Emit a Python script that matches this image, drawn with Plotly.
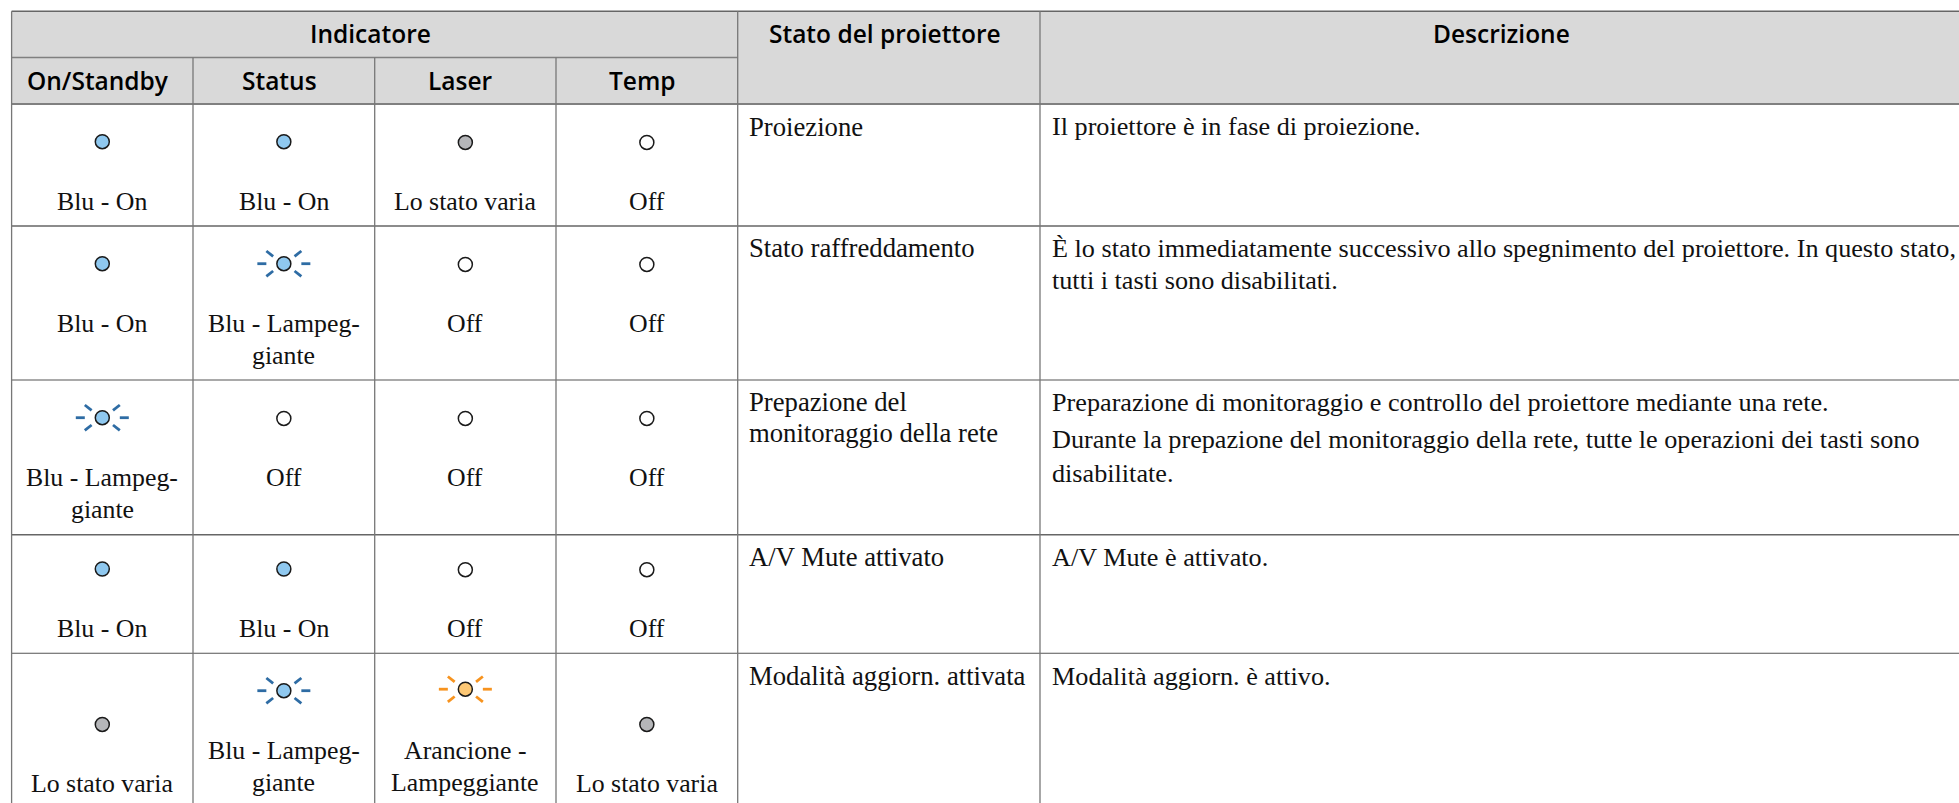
import plotly.graph_objects as go

# ---- table content ----
group_header = "Indicatore"
column_headers = ["On/Standby", "Status", "Laser", "Temp"]
state_header = "Stato del proiettore"
description_header = "Descrizione"

led_states = [
    ["blue", "blue", "grey", "off"],
    ["blue", "blue_blink", "off", "off"],
    ["blue_blink", "off", "off", "off"],
    ["blue", "blue", "off", "off"],
    ["grey", "blue_blink", "orange_blink", "grey"],
]
state_labels = {
    "blue": ["Blu - On"],
    "blue_blink": ["Blu - Lampeg-", "giante"],
    "grey": ["Lo stato varia"],
    "off": ["Off"],
    "orange_blink": ["Arancione -", "Lampeggiante"],
}
projector_states = [
    ["Proiezione"],
    ["Stato raffreddamento"],
    ["Prepazione del", "monitoraggio della rete"],
    ["A/V Mute attivato"],
    ["Modalità aggiorn. attivata"],
]
descriptions = [
    ["Il proiettore è in fase di proiezione."],
    ["È lo stato immediatamente successivo allo spegnimento del proiettore. In questo stato,",
     "tutti i tasti sono disabilitati."],
    ["Preparazione di monitoraggio e controllo del proiettore mediante una rete.",
     "Durante la prepazione del monitoraggio della rete, tutte le operazioni dei tasti sono",
     "disabilitate."],
    ["A/V Mute è attivato."],
    ["Modalità aggiorn. è attivo."],
]

# ---- layout geometry ----
W, H = 1959, 803
X_EDGES = [11.6, 193, 374.7, 556, 737.7, 1040, 1959]
Y_EDGES = [11.3, 57.5, 104, 226, 380, 534.7, 653.3]
LED_Y = [141.7, 263.7, 417.7, 569, 690.7]
TEXT_Y = [[126.7], [248.3, 280.7], [402, 433.4], [557], [676]]
DESC_Y = [[126.7], [248.3, 280.7], [402, 439.6, 473], [557], [676]]
LED_FILL = {"blue": "#8FC8EF", "blue_blink": "#8FC8EF", "grey": "#B5B6B9",
            "off": "#FFFFFF", "orange_blink": "#FDC875"}
LED_DY = {"blue": 0, "blue_blink": 0, "grey": 0.7, "off": 0.7, "orange_blink": -1.5}
RAY = {"blue_blink": "#2E6CA4", "orange_blink": "#F7931E"}
SERIF = "Liberation Serif"
SANS = "Open Sans"
LABEL_SIZE = 25.8
STATE_SIZE = 26.7
DESC_SIZE = 26.2
HEAD = 24.5

fig = go.Figure()
shapes = [dict(type="rect", x0=X_EDGES[0], x1=W + 2, y0=Y_EDGES[0], y1=Y_EDGES[2],
               fillcolor="#D9D9D9", line_width=0, layer="below")]


def hline(y, x0, x1, w=1.3, c="#6E6E6E"):
    shapes.append(dict(type="line", x0=x0, x1=x1, y0=y, y1=y, line=dict(color=c, width=w)))


def vline(x, y0, y1, w=1.3, c="#777777"):
    shapes.append(dict(type="line", x0=x, x1=x, y0=y0, y1=y1, line=dict(color=c, width=w)))


hline(Y_EDGES[0], X_EDGES[0], W + 2, 1.6, "#666666")
hline(Y_EDGES[1], X_EDGES[0], X_EDGES[4], 1.6, "#808080")
hline(Y_EDGES[2], X_EDGES[0], W + 2, 2, "#808080")
hline(Y_EDGES[3], X_EDGES[0], W + 2, 1.8, "#8C8C8C")
hline(Y_EDGES[4], X_EDGES[0], W + 2, 1.1, "#555555")
hline(Y_EDGES[5], X_EDGES[0], W + 2, 1.5, "#666666")
hline(Y_EDGES[6], X_EDGES[0], W + 2, 1.1, "#555555")
vline(X_EDGES[0], Y_EDGES[0], H + 2)
for x in X_EDGES[1:4]:
    vline(x, Y_EDGES[1], H + 2)
for x in X_EDGES[4:6]:
    vline(x, Y_EDGES[0], H + 2)

annotations = []


def text(x, y, s, size, family=SERIF, anchor="center", weight=400, color="#111111"):
    annotations.append(dict(x=x, y=y, text=s, showarrow=False, xanchor=anchor, yanchor="middle",
                            font=dict(family=family, size=size, color=color, weight=weight),
                            xref="x", yref="y", borderpad=0, borderwidth=0))


def head(x, y, s):
    text(x, y, s, HEAD, SANS, weight=600, color="#000000")


centers = [(X_EDGES[i] + X_EDGES[i + 1]) / 2 for i in range(4)]
head((X_EDGES[0] + X_EDGES[4]) / 2 - 4, 33.5, group_header)
for cx, h in zip(centers, column_headers):
    head(cx - 4.5, 80, h)
head((X_EDGES[4] + X_EDGES[5]) / 2 - 4, 33.5, state_header)
head((X_EDGES[5] + X_EDGES[6]) / 2 + 2, 33.5, description_header)

# LEDs and their labels
LINE_PITCH, LABEL_OFFSET, BOTTOM_SHIFT = 32.7, 59.5, 33
led_x, led_y, led_fill = [], [], []
ray_xy = {k: ([], []) for k in RAY}
for r, row in enumerate(led_states):
    for c, st in enumerate(row):
        lines = state_labels[st]
        shift = BOTTOM_SHIFT if (r == 4 and len(lines) == 1) else 0
        x, y = centers[c], LED_Y[r] + shift + LED_DY[st]
        led_x.append(x); led_y.append(y); led_fill.append(LED_FILL[st])
        if st in RAY:
            xs, ys = ray_xy[st]
            for sx in (-1, 1):
                xs += [x + sx * 17.5, x + sx * 26.5, None]; ys += [y, y, None]
                for sy in (-1, 1):
                    xs += [x + sx * 10.7, x + sx * 17.5, None]
                    ys += [y + sy * 7.3, y + sy * 12.7, None]
        for i, s in enumerate(lines):
            text(x, LED_Y[r] + shift + LABEL_OFFSET + i * LINE_PITCH, s, LABEL_SIZE)

for st, (xs, ys) in ray_xy.items():
    fig.add_trace(go.Scatter(x=xs, y=ys, mode="lines", line=dict(color=RAY[st], width=2.8),
                             hoverinfo="skip", showlegend=False, connectgaps=False))
fig.add_trace(go.Scatter(x=led_x, y=led_y, mode="markers", hoverinfo="skip", showlegend=False,
                         marker=dict(size=14, color=led_fill, line=dict(color="#1A1A1A", width=1.5))))

for r in range(5):
    for s, y in zip(projector_states[r], TEXT_Y[r]):
        text(748.5, y, s, STATE_SIZE, anchor="left")
    for s, y in zip(descriptions[r], DESC_Y[r]):
        text(1051.8, y, s, DESC_SIZE, anchor="left")

fig.update_layout(width=W, height=H, margin=dict(l=0, r=0, t=0, b=0),
                  paper_bgcolor="white", plot_bgcolor="white",
                  xaxis=dict(range=[0, W], visible=False, fixedrange=True),
                  yaxis=dict(range=[H, 0], visible=False, fixedrange=True),
                  shapes=shapes, annotations=annotations, showlegend=False)
fig.write_html("out.html", config=dict(displayModeBar=False),
               post_script="document.body.style.margin='0';document.documentElement.style.overflow='hidden';")
